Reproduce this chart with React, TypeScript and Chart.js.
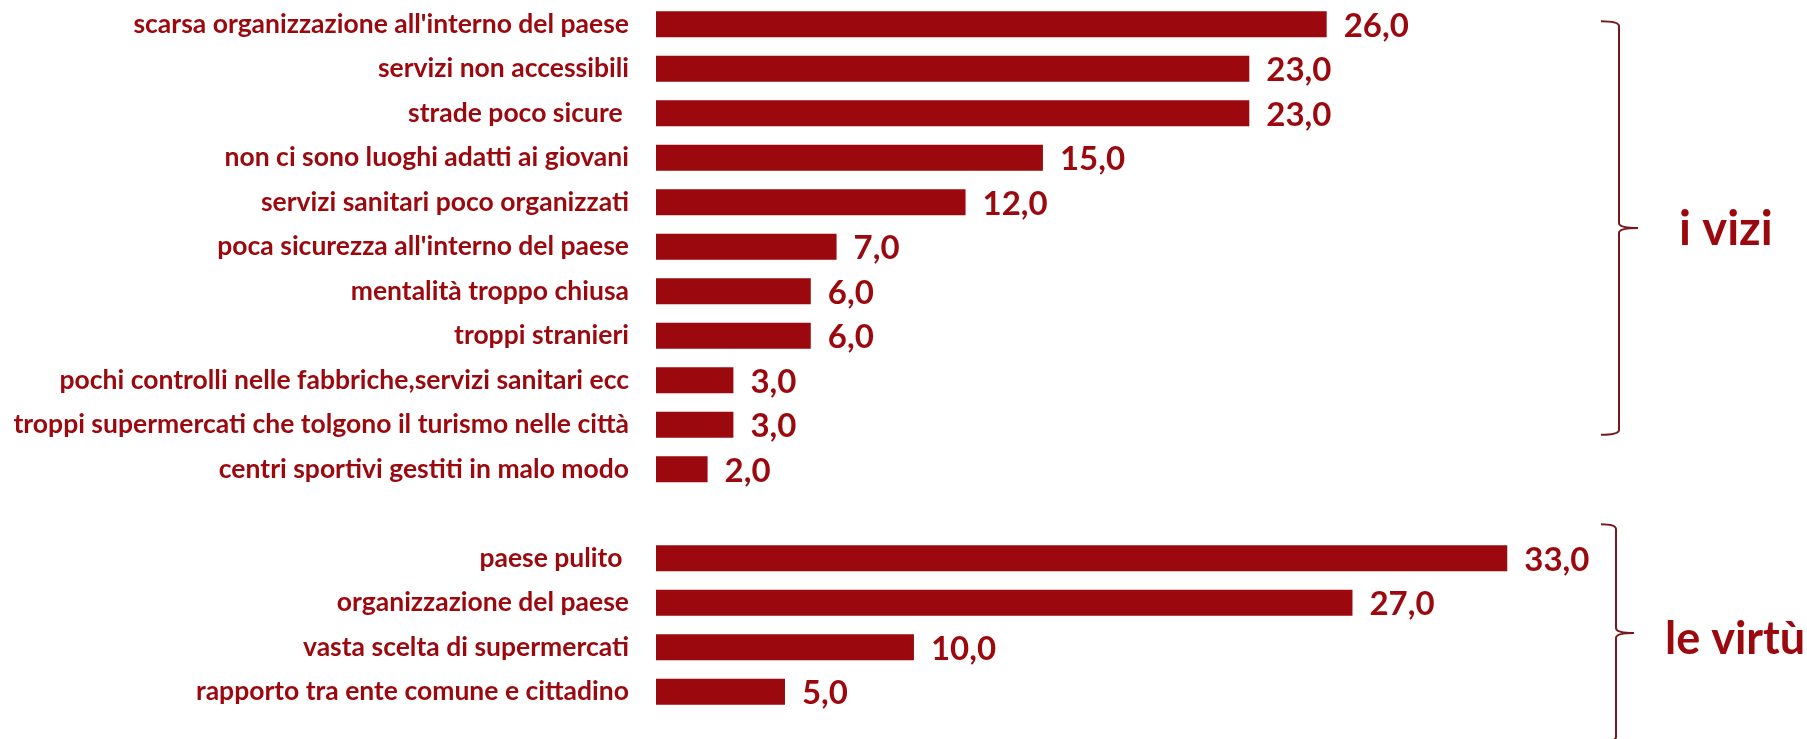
import React, { useEffect, useRef } from "react";
import { Chart, registerables } from "chart.js";

Chart.register(...registerables);

const categories: string[] = [
  "scarsa organizzazione all'interno del paese",
  "servizi non accessibili",
  "strade poco sicure ",
  "non ci sono luoghi adatti ai giovani",
  "servizi sanitari poco organizzati",
  "poca sicurezza all'interno del paese",
  "mentalità troppo chiusa",
  "troppi stranieri",
  "pochi controlli nelle fabbriche,servizi sanitari ecc",
  "troppi supermercati che tolgono il turismo nelle città",
  "centri sportivi gestiti in malo modo",
  "",
  "paese pulito ",
  "organizzazione del paese",
  "vasta scelta di supermercati",
  "rapporto tra ente comune e cittadino",
];

const values: (number | null)[] = [26, 23, 23, 15, 12, 7, 6, 6, 3, 3, 2, null, 33, 27, 10, 5];

const groupLabels: string[] = ["i vizi", "le virtù"];

const RED = "rgb(155,8,14)";
const BRACE = "rgb(120,24,28)";
const FONT = "Lato, 'Open Sans', sans-serif";

const decoPlugin = {
  id: "deco",
  afterDatasetsDraw(chart: any) {
    const ctx = chart.ctx;
    const meta = chart.getDatasetMeta(0);
    ctx.save();
    ctx.fillStyle = RED;
    ctx.font = `bold 33px ${FONT}`;
    ctx.textAlign = "left";
    ctx.textBaseline = "middle";
    meta.data.forEach((bar: any, i: number) => {
      const v = values[i];
      if (v == null) return;
      ctx.fillText(v.toFixed(1).replace(".", ","), bar.x + 17, bar.y + 2);
    });

    const ys = chart.scales.y;
    const drawBrace = (x0: number, top: number, bottom: number, depth: number, tipLen: number) => {
      const mid = (top + bottom) / 2;
      const vx = x0 + depth;
      const r = 5;
      ctx.beginPath();
      ctx.moveTo(x0, top);
      ctx.quadraticCurveTo(vx, top, vx, top + r);
      ctx.lineTo(vx, mid - r);
      ctx.quadraticCurveTo(vx, mid, vx + tipLen, mid);
      ctx.quadraticCurveTo(vx, mid, vx, mid + r);
      ctx.lineTo(vx, bottom - r);
      ctx.quadraticCurveTo(vx, bottom, x0, bottom);
      ctx.strokeStyle = BRACE;
      ctx.lineWidth = 2;
      ctx.stroke();
      return mid;
    };

    const m1 = drawBrace(1601, ys.getPixelForValue(0) - 3, ys.getPixelForValue(9) + 10, 18, 19);
    const m2 = drawBrace(1601, ys.getPixelForValue(12) - 34, ys.getPixelForValue(15) + 50, 15, 18);

    ctx.fillStyle = RED;
    ctx.textAlign = "left";
    ctx.textBaseline = "middle";
    ctx.font = `bold 47px ${FONT}`;
    ctx.fillText(groupLabels[0], 1679, m1 + 2);
    ctx.font = `bold 45px ${FONT}`;
    ctx.fillText(groupLabels[1], 1665, m2 + 6);
    ctx.restore();
  },
};

export default function App() {
  const ref = useRef<HTMLCanvasElement | null>(null);
  useEffect(() => {
    document.body.style.margin = "0";
    const canvas = ref.current;
    if (!canvas) return;
    const chart = new Chart(canvas, {
      type: "bar",
      data: {
        labels: categories,
        datasets: [
          {
            data: values as any,
            backgroundColor: RED,
            borderWidth: 0,
            barPercentage: 0.58,
            categoryPercentage: 1,
          },
        ],
      },
      options: {
        indexAxis: "y",
        animation: false,
        responsive: false,
        maintainAspectRatio: false,
        layout: { padding: { left: 0, right: 16, top: 2, bottom: 25 } },
        plugins: {
          legend: { display: false },
          tooltip: { enabled: false },
          title: { display: false },
        },
        scales: {
          x: {
            display: false,
            min: 0,
            max: 44,
            grid: { display: false },
          },
          y: {
            grid: { display: false, drawTicks: false },
            border: { display: false },
            ticks: {
              color: RED,
              padding: 27,
              autoSkip: false,
              font: { family: FONT, size: 26.5, weight: "bold" },
            },
            afterFit: (s: any) => {
              s.width = 656;
              s.paddingTop = 0;
              s.paddingBottom = 0;
            },
          },
        },
      },
      plugins: [decoPlugin],
    });
    return () => chart.destroy();
  }, []);
  return (
    <div style={{ width: 1807, height: 739, background: "#fff" }}>
      <canvas ref={ref} width={1807} height={739} />
    </div>
  );
}
